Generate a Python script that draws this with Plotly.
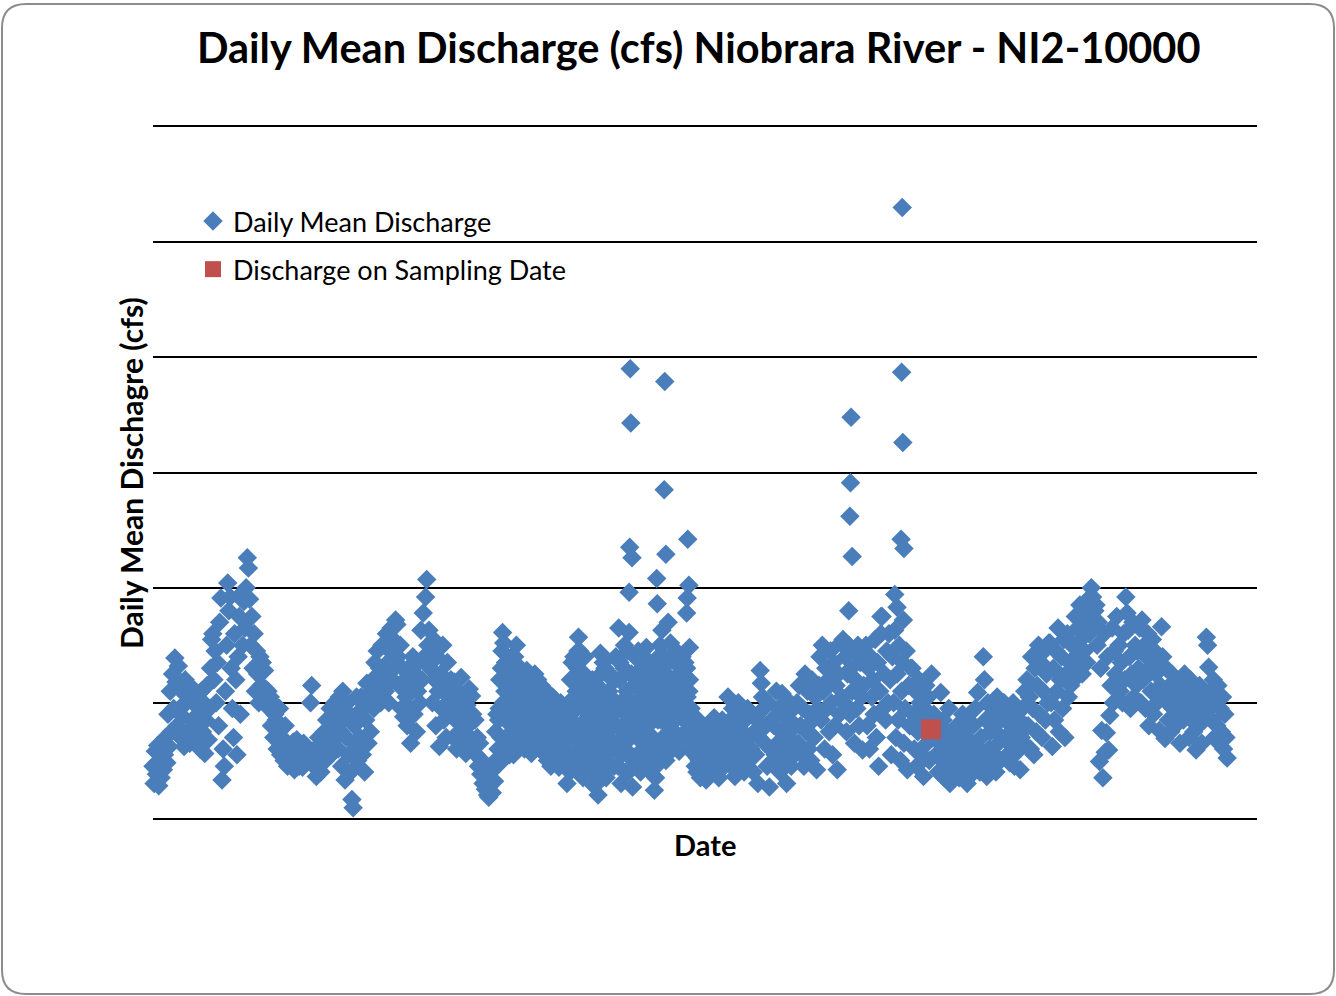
import datetime as dt
import plotly.graph_objects as go

# Daily mean discharge (cfs), one value every 2 days, grouped by year of record
year1_cfs = [
    45, 30, 58, 38, 63, 28, 50, 35, 60, 42, 55, 70, 48, 90, 62, 110, 75, 125, 95, 139,
    118, 80, 132, 95, 70, 110, 88, 62, 120, 100, 75, 115, 65, 105, 85, 112, 70, 98, 80, 108,
    90, 60, 110, 75, 100, 56, 85, 115, 68, 95, 130, 155, 160, 120, 145, 100, 135, 80, 170, 191,
    33, 60, 45, 110, 150, 204, 180, 192, 130, 95, 70, 160, 120, 55, 140, 175, 90, 195, 150, 188,
    165, 200, 226, 217, 190, 150, 175, 130, 160, 110, 145, 125, 100, 140, 115, 135, 105, 128, 112, 100,
    110, 95, 105, 80, 100, 70, 90, 85, 60, 75, 95, 55, 70, 65, 50, 80, 58, 45, 62, 52,
    60, 48, 66, 42, 55, 68, 50, 45, 62, 58, 44, 65, 52, 48, 60, 55, 50, 100, 115, 58,
    45, 60, 36, 55, 70, 48, 40, 65, 58, 75, 50, 85, 62, 72, 95, 55, 88, 68, 100, 80,
    95, 60, 105, 75, 45, 110, 85, 33, 70, 100, 55, 90, 40, 16, 9, 80, 65, 105, 50, 92,
]
year2_cfs = [
    70, 105, 55, 95, 40, 85, 117, 65, 100, 75, 110, 120, 95, 135, 105, 145, 115, 130, 100, 150,
    125, 150, 110, 160, 135, 100, 145, 165, 120, 155, 130, 172, 168, 140, 115, 150, 95, 130, 88, 120,
    105, 80, 130, 95, 65, 115, 140, 90, 125, 75, 110, 135, 100, 163, 120, 178, 140, 192, 207, 150,
    163, 130, 145, 100, 155, 120, 80, 140, 110, 62, 125, 95, 150, 85, 115, 70, 135, 105, 90, 120,
    100, 70, 118, 85, 60, 110, 95, 75, 122, 65, 105, 88, 56, 98, 80, 112, 70, 106, 90, 62,
    85, 55, 70, 45, 65, 38, 50, 30, 42, 25, 35, 20, 18, 28, 40, 22, 48, 32, 75, 90,
    60, 95, 48, 130, 161, 152, 110, 70, 125, 85, 55, 100, 140, 75, 115, 90, 150, 130, 65, 105,
    120, 75, 110, 60, 95, 128, 85, 70, 115, 56, 100, 80, 125, 65, 90, 110, 60, 105, 75, 95,
    100, 65, 85, 50, 108, 75, 45, 95, 60, 80, 55, 100, 70, 44, 90, 62, 85, 50, 75, 95,
]
year3_cfs = [
    30, 80, 55, 120, 95, 45, 140, 70, 110, 130, 157, 145, 60, 100, 35, 125, 85, 50, 115, 75,
    90, 60, 120, 40, 105, 75, 30, 20, 65, 143, 110, 50, 85, 130, 35, 95, 70, 125, 45, 100,
    80, 45, 120, 100, 60, 165, 135, 30, 95, 70, 150, 40, 110, 85, 161, 55, 125, 27, 90, 140,
    120, 70, 145, 95, 40, 130, 60, 110, 80, 148, 50, 100, 135, 65, 115, 90, 24, 35, 125, 85,
    110, 150, 65, 125, 90, 140, 50, 105, 135, 75, 152, 95, 60, 120, 85, 145, 70, 115, 100, 130,
    140, 100, 120, 75, 130, 90, 110, 65, 95, 60, 80, 55, 70, 40, 85, 50, 35, 65, 45, 75,
    55, 33, 70, 45, 80, 38, 62, 50, 87, 42, 68, 58, 35, 75, 52, 85, 44, 65, 55, 78,
    105, 60, 85, 45, 95, 70, 36, 80, 55, 100, 65, 48, 90, 75, 40, 85, 60, 95, 50, 70,
    60, 90, 40, 75, 55, 85, 30, 70, 128, 117, 105, 95, 65, 80, 45, 100, 27, 60, 85, 50,
]
year4_cfs = [
    80, 55, 110, 65, 95, 40, 75, 108, 50, 90, 60, 30, 85, 70, 100, 45, 65, 95, 55, 80,
    100, 65, 115, 80, 55, 95, 45, 125, 75, 110, 60, 90, 50, 120, 85, 70, 105, 42, 95, 115,
    140, 85, 150, 110, 60, 130, 95, 120, 75, 145, 100, 55, 135, 80, 115, 42, 125, 90, 152, 105,
    155, 100, 140, 75, 125, 150, 90, 130, 110, 145, 65, 120, 95, 150, 80, 135, 105, 59, 115, 140,
    150, 80, 130, 60, 140, 105, 120, 90, 155, 70, 135, 45, 110, 160, 175, 95, 125, 85, 145, 100,
    160, 120, 55, 140, 100, 163, 70, 125, 85, 150, 50, 110, 135, 65, 95, 145, 42, 115, 80, 130,
    130, 90, 60, 110, 45, 75, 120, 100, 55, 85, 36, 95, 115, 65, 105, 50, 80, 125, 70, 90,
    80, 55, 70, 40, 65, 109, 50, 85, 35, 60, 75, 45, 95, 30, 55, 70, 40, 65, 50, 80,
    55, 35, 75, 45, 90, 60, 40, 70, 30, 85, 50, 65, 38, 80, 55, 95, 45, 109, 60, 40,
]
year5_cfs = [
    70, 50, 140, 120, 85, 36, 100, 60, 75, 45, 95, 55, 80, 40, 105, 65, 90, 50, 70, 100,
    100, 70, 85, 55, 95, 48, 80, 62, 100, 45, 75, 90, 58, 85, 42, 70, 95, 65, 110, 80,
    120, 80, 105, 60, 140, 95, 55, 130, 75, 115, 150, 90, 135, 70, 110, 145, 85, 125, 100, 152,
    152, 100, 62, 130, 85, 145, 110, 165, 75, 120, 140, 95, 155, 70, 125, 160, 105, 135, 115, 150,
    150, 120, 175, 140, 165, 130, 185, 155, 125, 170, 145, 180, 135, 190, 160, 175, 200, 192, 165, 180,
    185, 150, 170, 49, 130, 76, 35, 160, 57, 74, 140, 59, 89, 115, 165, 100, 145, 125, 175, 110,
    150, 110, 135, 100, 160, 120, 192, 178, 163, 140, 95, 125, 170, 105, 150, 115, 145, 130, 165, 100,
    172, 120, 150, 95, 140, 160, 80, 130, 110, 155, 90, 145, 125, 100, 135, 76, 115, 166, 140, 105,
    69, 130, 100, 85, 115, 75, 125, 95, 110, 80, 120, 105, 90, 65, 115, 100, 85, 125, 95, 110,
    95, 70, 120, 85, 105, 75, 110, 59, 100, 80, 115, 90, 65, 105, 85, 100, 157, 150, 131, 95,
    110, 85, 120, 70, 100, 80, 115, 65, 95, 75, 105, 60, 90, 70, 52,
]

# Intervening (odd) days through the wet stretch of years 2-3, from day 601
wet_odd_start = 601
wet_odd_cfs = [
    85, 120, 70, 145, 100, 60, 135, 90, 110, 65, 125, 80, 95, 55, 140, 105, 75, 115, 88, 130,
    90, 105, 68, 118, 80, 100, 62, 125, 92, 75, 110, 85, 70, 98, 120, 78, 88, 115, 66, 102,
    80, 55, 95, 70, 62, 88, 52, 105, 78, 68, 90, 48, 82, 58, 100, 72, 60, 92, 66, 85,
    60, 100, 40, 85, 135, 75, 120, 50, 95, 145, 110, 80, 42, 115, 65, 140, 100, 70, 90, 55,
    75, 45, 100, 28, 85, 55, 115, 40, 95, 125, 70, 135, 60, 105, 48, 80, 110, 58, 88, 120,
    100, 65, 140, 80, 45, 120, 95, 55, 75, 130, 60, 105, 145, 40, 100, 70, 85, 50, 115, 75,
    95, 55, 120, 75, 105, 45, 90, 135, 65, 115, 80, 125, 40, 100, 70, 55, 110, 45, 95, 140,
    130, 85, 100, 70, 115, 60, 125, 95, 80, 140, 110, 65, 100, 75, 135, 88, 120, 58, 108, 92,
    120, 85, 135, 95, 105, 70, 120, 80, 75, 70, 65, 45, 60, 52, 68, 42, 55, 48, 60, 38,
]

# Storm-event days (days after start of record) and their daily mean discharge
event_day = [828, 829, 830, 831, 833, 876, 877, 885, 889, 890, 892, 896,
             928, 929, 930, 932, 933, 1210, 1212, 1213, 1214, 1216,
             1266, 1290, 1294, 1301, 1302, 1303, 1304, 1305, 1306]
event_cfs = [196, 235, 390, 343, 226, 208, 186, 163, 285, 379, 229, 170,
             178, 191, 242, 202, 148, 180, 262, 291, 348, 227,
             175, 194, 183, 242, 387, 530, 326, 172, 234]

# Sampling date
sample_day = [1353]
sample_cfs = [77]

start = dt.date(2005, 10, 1)
step_days = 2
axis_days = 1920

base_cfs = year1_cfs + year2_cfs + year3_cfs + year4_cfs + year5_cfs
days = ([i * step_days for i in range(len(base_cfs))]
        + [wet_odd_start + i * step_days for i in range(len(wet_odd_cfs))]
        + event_day)
cfs = base_cfs + wet_odd_cfs + event_cfs
order = sorted(range(len(days)), key=lambda i: days[i])
dates = [start + dt.timedelta(days=days[i]) for i in order]
values = [cfs[i] for i in order]
sample_dates = [start + dt.timedelta(days=d) for d in sample_day]

FONT = "Lato"

fig = go.Figure()
fig.add_trace(go.Scatter(
    x=dates, y=values, mode="markers", name="Daily Mean Discharge",
    legendgroup="a", cliponaxis=False,
    marker=dict(symbol="diamond", size=15, color="#4A7EBB", line=dict(width=0)),
))
fig.add_trace(go.Scatter(
    x=sample_dates, y=sample_cfs, mode="markers", name="Discharge on Sampling Date",
    legendgroup="b", cliponaxis=False,
    marker=dict(symbol="square", size=20, color="#C0504D", line=dict(width=0)),
))

# rounded frame around the whole chart, in paper coordinates
L, R, T, B = 153, 1257, 127, 818
def px(xp):
    return (xp - L) / (R - L)
def py(yp):
    return (B - yp) / (B - T)
x0, x1, y0, y1, rad = 2, 1334, 4, 994, 24
path = (f"M {px(x0+rad)},{py(y0)} L {px(x1-rad)},{py(y0)} "
        f"Q {px(x1)},{py(y0)} {px(x1)},{py(y0+rad)} L {px(x1)},{py(y1-rad)} "
        f"Q {px(x1)},{py(y1)} {px(x1-rad)},{py(y1)} L {px(x0+rad)},{py(y1)} "
        f"Q {px(x0)},{py(y1)} {px(x0)},{py(y1-rad)} L {px(x0)},{py(y0+rad)} "
        f"Q {px(x0)},{py(y0)} {px(x0+rad)},{py(y0)} Z")

fig.update_layout(
    width=1336, height=996,
    margin=dict(l=L, r=1336 - R, t=T, b=996 - B),
    paper_bgcolor="white", plot_bgcolor="white",
    font=dict(family=FONT, color="black"),
    title=dict(text="<b>Daily Mean Discharge (cfs) Niobrara River - NI2-10000</b>",
               x=0.523, xanchor="center", y=1 - 48 / 996, yanchor="middle",
               font=dict(size=41.5, family=FONT, color="black")),
    xaxis=dict(range=[start, start + dt.timedelta(days=axis_days)],
               showgrid=False, showticklabels=False, ticks="",
               showline=True, mirror=True, linecolor="black", linewidth=2,
               zeroline=False),
    yaxis=dict(range=[0, 600], dtick=100, showgrid=True, gridcolor="black",
               gridwidth=1.5, showticklabels=False, ticks="", showline=False,
               zeroline=False),
    legend=dict(x=px(193), y=py(197), xanchor="left", yanchor="top",
                bgcolor="rgba(0,0,0,0)", traceorder="grouped", tracegroupgap=10,
                font=dict(size=27, family=FONT, color="black"), itemwidth=30),
    shapes=[dict(type="path", xref="paper", yref="paper", path=path,
                 line=dict(color="#8c8c8c", width=2), fillcolor="rgba(0,0,0,0)",
                 layer="below")],
    annotations=[
        dict(text="<b>Daily Mean Dischagre (cfs)</b>", xref="paper", yref="paper",
             x=px(131), y=py(473), textangle=-90, showarrow=False,
             xanchor="center", yanchor="middle",
             font=dict(size=30, family=FONT, color="black")),
        dict(text="<b>Date</b>", xref="paper", yref="paper",
             x=px(705), y=py(844), showarrow=False, xanchor="center", yanchor="middle",
             font=dict(size=29, family=FONT, color="black")),
    ],
)

fig.write_html("out.html")
